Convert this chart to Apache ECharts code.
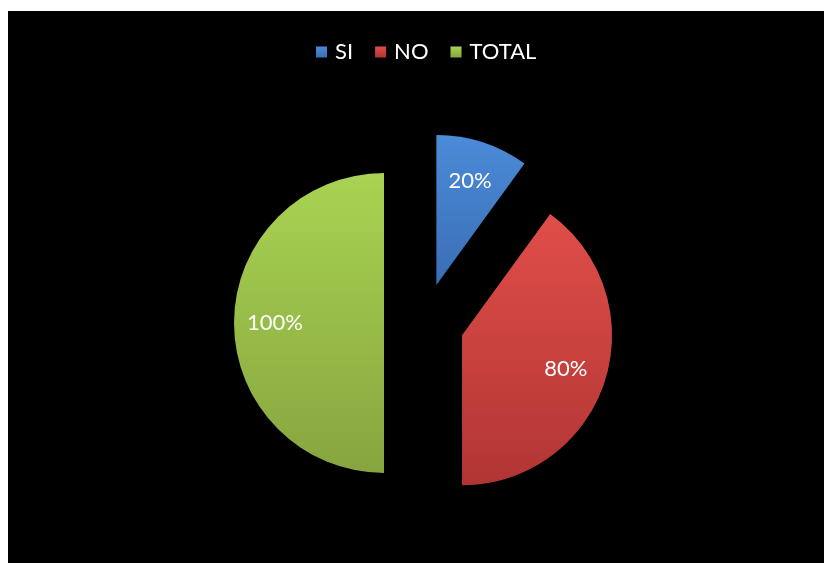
<!DOCTYPE html>
<html>
<head>
<meta charset="utf-8">
<script src="https://cdn.jsdelivr.net/npm/echarts@6/dist/echarts.min.js"></script>
<style>
  html, body { margin: 0; padding: 0; background: #ffffff; }
  #chart { width: 824px; height: 563px; }
</style>
</head>
<body>
<div id="chart"></div>
<script>
// Survey answers and the combined total
const categories = ['SI', 'NO', 'TOTAL'];
const values = [20, 80, 100];
const labels = ['20%', '80%', '100%'];

// Top-to-bottom shading for each slice
const topColors = ['#4b8bd8', '#e04e49', '#a9d352'];
const bottomColors = ['#3a6eb5', '#b13533', '#87a53f'];

const chart = echarts.init(document.getElementById('chart'));

function grad(i) {
  return new echarts.graphic.LinearGradient(0, 0, 0, 1, [
    { offset: 0, color: topColors[i] },
    { offset: 1, color: bottomColors[i] }
  ]);
}

const sliceData = categories.map((name, i) => ({
  name: name,
  value: values[i],
  selected: true,
  itemStyle: { color: grad(i) }
}));

const labelData = categories.map((name, i) => ({
  name: name,
  value: values[i],
  selected: true,
  label: { formatter: labels[i] }
}));

const center = [424, 323];

chart.setOption({
  backgroundColor: '#ffffff',
  animation: false,
  graphic: [{
    type: 'rect',
    shape: { x: 8, y: 11, width: 816, height: 552 },
    style: { fill: '#000000' },
    z: -10
  }],
  legend: {
    data: categories,
    left: 316,
    top: 41,
    padding: 0,
    icon: 'rect',
    itemWidth: 11,
    itemHeight: 11,
    itemGap: 22,
    textStyle: { color: '#ffffff', fontSize: 22, fontFamily: 'Lato', padding: [0, 0, 0, 3] }
  },
  series: [
    {
      type: 'pie',
      center: center,
      radius: [0, 150],
      startAngle: 90,
      clockwise: true,
      selectedMode: 'multiple',
      selectedOffset: 40,
      label: { show: false },
      labelLine: { show: false },
      emphasis: { disabled: true },
      itemStyle: {
        borderWidth: 0,
        shadowBlur: 3,
        shadowColor: 'rgba(0,0,0,0.4)'
      },
      data: sliceData
    },
    {
      // transparent copy used only to place the percentage labels further out
      type: 'pie',
      center: center,
      radius: [0, 212],
      startAngle: 90,
      clockwise: true,
      silent: true,
      selectedMode: 'multiple',
      selectedOffset: 40,
      itemStyle: { color: 'rgba(0,0,0,0)' },
      label: {
        show: true,
        position: 'inside',
        color: '#ffffff',
        fontSize: 22,
        fontFamily: 'Lato'
      },
      labelLine: { show: false },
      emphasis: { disabled: true },
      data: labelData
    }
  ]
});
</script>
</body>
</html>
